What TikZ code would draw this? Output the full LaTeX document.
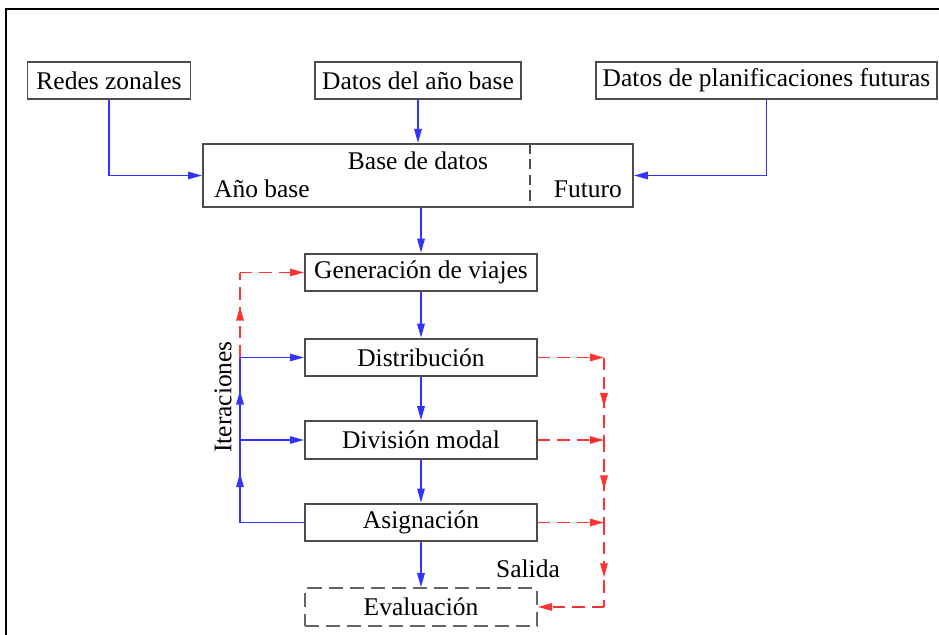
\documentclass[tikz,border=0pt]{standalone}
\usepackage{fontspec}
\setmainfont{Liberation Serif}
\usetikzlibrary{positioning, arrows.meta, decorations.markings}

\begin{document}
\begin{tikzpicture}[x=0.02cm, y=-0.02cm, font=\fontsize{14.5}{17}\selectfont,
		caja/.style={draw=black!70, line width=1.1pt, inner sep=0pt, minimum height=0.75cm},
		cajapaso/.style={caja, minimum width=4.64cm},
		azul/.style={draw=blue!80, line width=1pt},
		rojo/.style={draw=red!80, line width=1pt, dash pattern=on 7pt off 4pt},
		flecha/.style={-{Triangle[length=8pt, width=4.2pt]}},
		flechamedio/.style={postaction={decorate}, decoration={markings,
				mark=at position #1 with {\arrow{Triangle[length=8pt, width=4.2pt]}}}},
		flechamedio/.default=0.6]
		\useasboundingbox (0,0) rectangle (939,635);
		\draw[line width=1.7pt] (6,635) -- (6,9) -- (939,9);
		
		\node[caja, minimum width=3.26cm] (redes) at (109,80.5) {Redes zonales};
		\node[caja, minimum width=4.12cm] (anyo) at (418,80.5) {Datos del año base};
		\node[caja, minimum width=6.82cm] (futuras) at (766.5,80.5) {Datos de planificaciones futuras};
		
		\node[caja, minimum width=8.6cm, minimum height=1.26cm] (bd) at (418,175.5) {};
		\node (bdtit) at (418,161) {Base de datos};
		\node[anchor=west] (base) at (208,189) {Año base};
		\node[anchor=east] (futuro) at (628,189) {Futuro};
		\coordinate (corte) at (530,0);
		\draw[draw=black!70, line width=1.1pt, dash pattern=on 6pt off 3pt] (bd.north -| corte) -- (bd.south -| corte);
		
		\node[cajapaso] (gen) at (421,272.5) {Generación de viajes};
		\node[cajapaso] (dist) at (421,357.5) {Distribución};
		\node[cajapaso] (modal) at (421,440) {División modal};
		\node[cajapaso] (asig) at (421,522.5) {Asignación};
		\node[cajapaso, draw=black!60, dash pattern=on 8pt off 4pt] (eval) at (421,607) {Evaluación};
		
		\node[rotate=90] (iter) at (223,397) {Iteraciones};
		\node (salida) at (528,569) {Salida};
		
		% entradas
		\draw[azul, flecha] (redes.south) |- (bd.west);
		\draw[azul, flecha] (anyo.south) -- (anyo.south |- bd.north);
		\draw[azul, flecha] (futuras.south) |- (bd.east);
		\draw[azul, flecha] (gen.north |- bd.south) -- (gen.north);
		
		% cadena
		\draw[azul, flecha] (gen) -- (dist);
		\draw[azul, flecha] (dist) -- (modal);
		\draw[azul, flecha] (modal) -- (asig);
		\draw[azul, flecha] (asig) -- (eval);
		
		% iteraciones
		\coordinate (izq) at (240,0);
		\draw[azul] (asig.west) -- (izq |- asig.west);
		\draw[azul, flechamedio] (izq |- asig.west) -- (izq |- modal.west);
		\draw[azul, flechamedio] (izq |- modal.west) -- (izq |- dist.west);
		\draw[azul, flecha] (izq |- modal.west) -- (modal.west);
		\draw[azul, flecha] (izq |- dist.west) -- (dist.west);
		\draw[rojo, flechamedio] (izq |- dist.west) -- (izq |- gen.west);
		\draw[rojo, flecha] (izq |- gen.west) -- (gen.west);
		
		% salida
		\coordinate (der) at (604,0);
		\draw[rojo, flecha] (dist.east) -- (der |- dist.east);
		\draw[rojo, flecha] (modal.east) -- (der |- modal.east);
		\draw[rojo, flecha] (asig.east) -- (der |- asig.east);
		\draw[rojo, flechamedio] (der |- dist.east) -- (der |- modal.east);
		\draw[rojo, flechamedio] (der |- modal.east) -- (der |- asig.east);
		\draw[rojo, flechamedio=0.65] (der |- asig.east) -- (der |- eval.east);
		\draw[rojo, flecha] (der |- eval.east) -- (eval.east);
		
	\end{tikzpicture}
\end{document}
